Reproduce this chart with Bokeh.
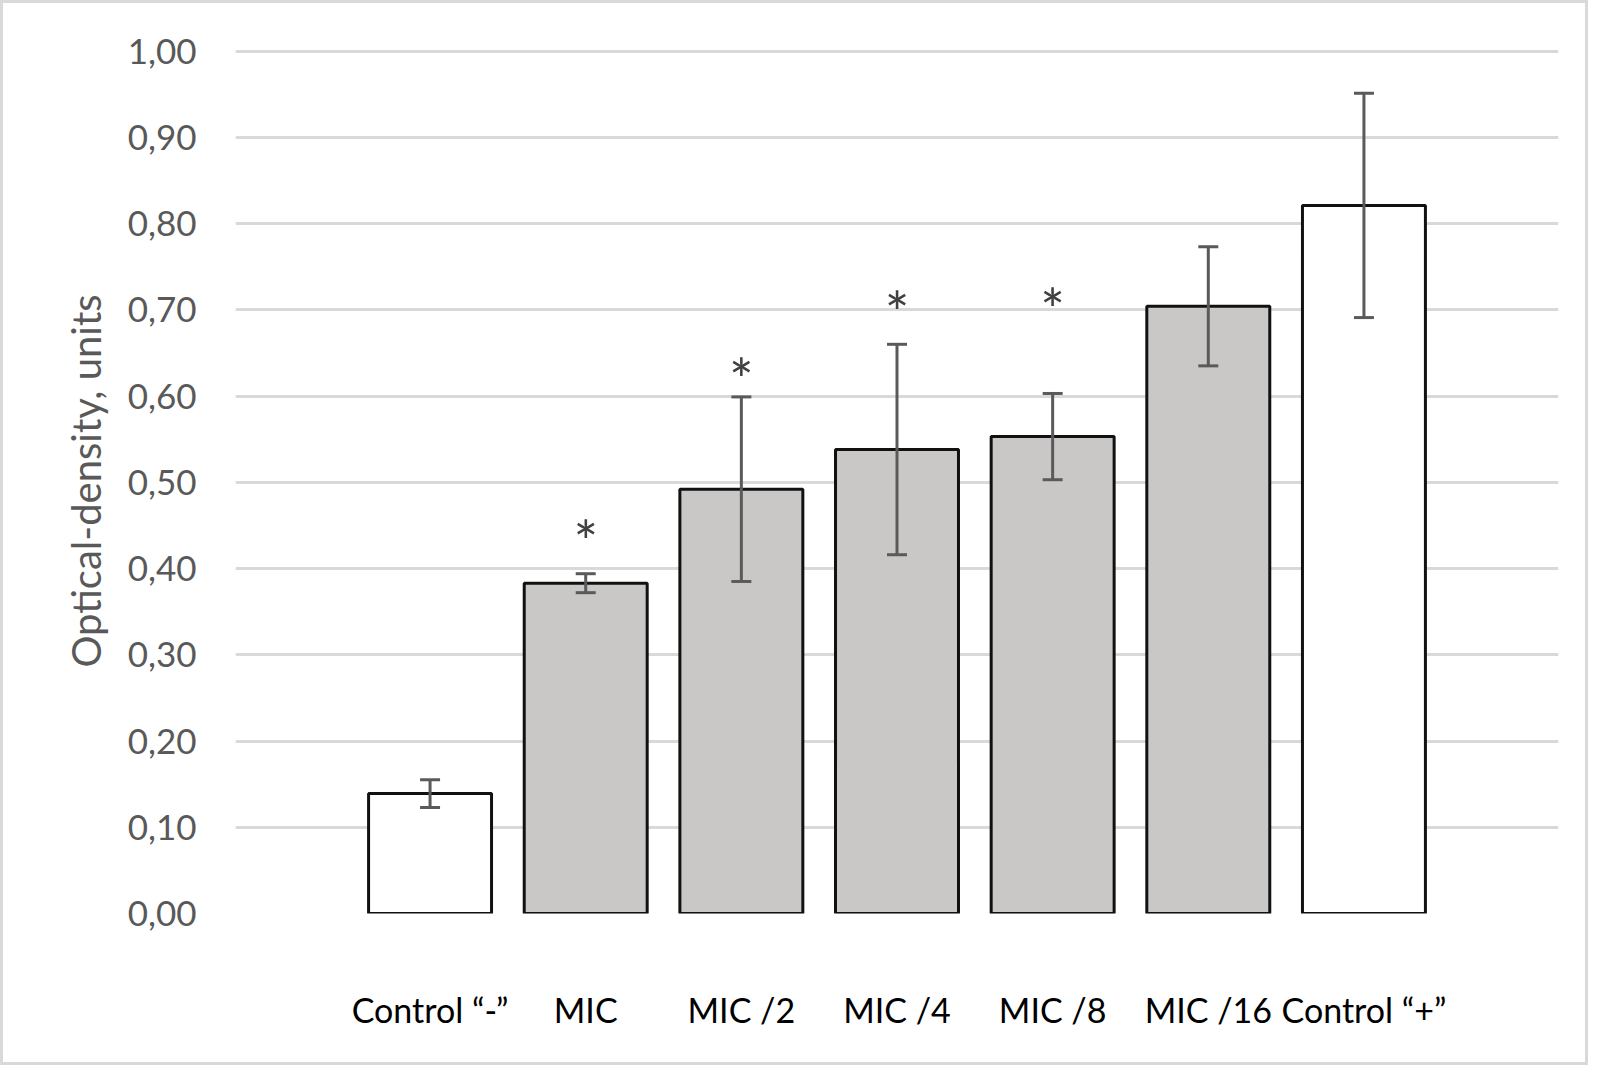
from bokeh.plotting import figure
from bokeh.models import ColumnDataSource, Whisker, FactorRange, Range1d, FixedTicker, TeeHead
from bokeh.core.properties import value
from bokeh.embed import file_html
from bokeh.resources import INLINE

categories = ["Control \u201c-\u201d", "MIC", "MIC /2", "MIC /4", "MIC /8", "MIC /16", "Control \u201c+\u201d"]
means = [0.139, 0.383, 0.492, 0.538, 0.553, 0.704, 0.821]
errors = [0.016, 0.011, 0.107, 0.122, 0.050, 0.069, 0.130]
fills = ["#ffffff", "#c9c8c6", "#c9c8c6", "#c9c8c6", "#c9c8c6", "#c9c8c6", "#ffffff"]
star_cats = ["MIC", "MIC /2", "MIC /4", "MIC /8"]
star_y = [0.433, 0.620, 0.698, 0.701]
y_ticks = [0.0, 0.1, 0.2, 0.3, 0.4, 0.5, 0.6, 0.7, 0.8, 0.9, 1.0]
y_tick_labels = ["0,00", "0,10", "0,20", "0,30", "0,40", "0,50", "0,60", "0,70", "0,80", "0,90", "1,00"]

FONT = "Lato"

src = ColumnDataSource(dict(
    cat=categories, mean=means, fill=fills,
    upper=[m + e for m, e in zip(means, errors)],
    lower=[m - e for m, e in zip(means, errors)],
))

W, H = 1588, 1065
p = figure(width=W, height=H, output_backend="svg", toolbar_location=None,
           x_range=FactorRange(factors=categories, range_padding=0.75, range_padding_units="absolute"),
           y_range=Range1d(0, 1.003),
           min_border_left=232, min_border_right=33, min_border_top=45, min_border_bottom=155)
p.styles = {"border": "3px solid #d9d9d9"}

p.outline_line_color = None
p.background_fill_color = "white"
p.border_fill_color = "white"

p.vbar(x="cat", top="mean", width=0.79, source=src, fill_color="fill",
       line_color="#111111", line_width=3)

w = Whisker(base="cat", upper="upper", lower="lower", source=src, level="overlay",
            line_color="#5a5a5a", line_width=3,
            upper_head=TeeHead(size=20, line_color="#5a5a5a", line_width=3),
            lower_head=TeeHead(size=20, line_color="#5a5a5a", line_width=3))
p.add_layout(w)

p.text(x=star_cats, y=star_y, text=["*"] * len(star_cats), text_align="center",
       text_baseline="middle", text_font=value(FONT), text_font_size="58px",
       text_color="#404040")

p.xgrid.grid_line_color = None
p.ygrid.grid_line_color = "#d9d9d9"
p.ygrid.grid_line_width = 3
p.yaxis.ticker = FixedTicker(ticks=y_ticks)
p.yaxis.major_label_overrides = {t: l for t, l in zip(y_ticks, y_tick_labels)}

for ax in (p.xaxis[0], p.yaxis[0]):
    ax.axis_line_color = None
    ax.major_tick_line_color = None
    ax.minor_tick_line_color = None
    ax.major_label_text_font = FONT

p.yaxis.major_label_text_font_size = "35px"
p.yaxis.major_label_text_color = "#595959"
p.yaxis.major_label_standoff = 33
p.yaxis.axis_label = "Optical-density, units"
p.yaxis.axis_label_text_font = FONT
p.yaxis.axis_label_text_font_size = "40px"
p.yaxis.axis_label_text_font_style = "normal"
p.yaxis.axis_label_text_color = "#595959"
p.yaxis.axis_label_standoff = 15

p.xaxis.major_label_text_font_size = "34px"
p.xaxis.major_label_text_color = "#000000"
p.xaxis.major_label_standoff = 69

open("out.html", "w").write(file_html(p, INLINE))
